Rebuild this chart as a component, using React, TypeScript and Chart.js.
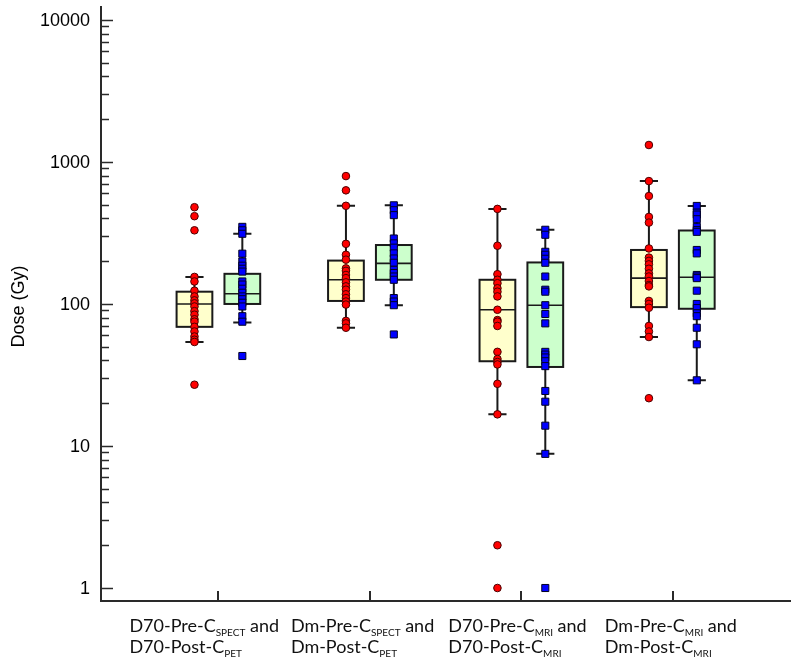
import React, { useEffect, useRef } from "react";
import { Chart, registerables } from "chart.js";

Chart.register(...registerables);

// ---------- data ----------
const categoryLine1 = [
  ["D70-Pre-C", "SPECT", " and"],
  ["Dm-Pre-C", "SPECT", " and"],
  ["D70-Pre-C", "MRI", " and"],
  ["Dm-Pre-C", "MRI", " and"],
];
const categoryLine2 = [
  ["D70-Post-C", "PET"],
  ["Dm-Post-C", "PET"],
  ["D70-Post-C", "MRI"],
  ["Dm-Post-C", "MRI"],
];
const yTickValues = [1, 10, 100, 1000, 10000];
const yTitle = "Dose (Gy)";

const preG1 = [480, 415, 330, 155, 144, 124, 113, 106, 101, 96, 89, 84, 78, 75, 69, 64, 59, 56, 54, 27];
const postG1 = [349, 330, 312, 226, 199, 186, 177, 169, 144, 137, 128, 120, 113, 108, 102, 96, 82, 75, 43];
const preG2 = [795, 631, 491, 265, 222, 205, 178, 171, 160, 152, 142, 133, 126, 117, 110, 104, 99, 76, 73, 68];
const postG2 = [495, 457, 422, 289, 267, 249, 227, 209, 195, 174, 165, 156, 148, 110, 104, 98, 61];
const preG3 = [467, 257, 162, 148, 140, 129, 122, 113, 91, 77, 75, 70, 46, 41, 39, 37.5, 27.4, 16.7, 2, 1];
const postG3 = [333, 307, 233, 222, 208, 195, 156, 126, 122, 98, 85, 73, 46, 44, 42, 39.5, 36.5, 24.4, 20.5, 13.9, 8.8, 1];
const preG4 = [1316, 733, 575, 410, 374, 246, 212, 201, 190, 177, 164, 156, 145, 136, 133, 105, 100, 94, 70, 64, 58.5, 21.7];
const postG4 = [490, 440, 426, 395, 349, 331, 322, 240, 227, 160, 156, 152, 124, 100, 93.5, 86, 82, 68, 52, 29];

const preValues = [preG1, preG2, preG3, preG4];
const postValues = [postG1, postG2, postG3, postG4];

const preLow = [54, 68, 16.7, 58.5];
const preQ1 = [69, 105, 39.5, 95];
const preMedian = [100, 148, 91, 152];
const preQ3 = [122, 202, 148, 240];
const preHigh = [155, 491, 467, 733];

const postLow = [74, 98, 8.8, 29];
const postQ1 = [100, 148, 36, 92.5];
const postMedian = [118, 193, 98, 154];
const postQ3 = [163, 260, 196, 329];
const postHigh = [312, 495, 333, 490];

// ---------- layout / style ----------
const PAIR_OFFSET = 0.158;
const BOX_HALF = 0.118;
const CAP_HALF = 0.06;
const LABEL_SHIFT = [-89, -79, -73, -68];
const AXIS_COLOR = "#2a2a2a";
const PRE_FILL = "#FFFFCC";
const POST_FILL = "#CCFFCC";
const MAIN_FONT = "18px Lato, 'Open Sans', sans-serif";
const SUB_FONT = "10px Lato, 'Open Sans', sans-serif";
const TICK_FONT = "18px 'Liberation Sans', Arial, sans-serif";

const boxPlugin = {
  id: "boxplots",
  beforeDatasetsDraw(chart: any) {
    const { ctx } = chart;
    const xs = chart.scales.x;
    const ys = chart.scales.y;
    const Y = (v: number) => ys.getPixelForValue(v);
    const draw = (pos: number, lo: number, q1: number, med: number, q3: number, hi: number, fill: string) => {
      const xc = xs.getPixelForValue(pos);
      const hw = xs.getPixelForValue(pos + BOX_HALF) - xc;
      const cw = xs.getPixelForValue(pos + CAP_HALF) - xc;
      ctx.save();
      ctx.strokeStyle = "#1a1a1a";
      ctx.lineWidth = 2;
      ctx.beginPath();
      ctx.moveTo(xc, Y(hi));
      ctx.lineTo(xc, Y(lo));
      ctx.moveTo(xc - cw, Y(hi));
      ctx.lineTo(xc + cw, Y(hi));
      ctx.moveTo(xc - cw, Y(lo));
      ctx.lineTo(xc + cw, Y(lo));
      ctx.stroke();
      const top = Y(q3);
      const bot = Y(q1);
      ctx.fillStyle = fill;
      ctx.fillRect(xc - hw, top, hw * 2, bot - top);
      ctx.strokeRect(xc - hw, top, hw * 2, bot - top);
      ctx.lineWidth = 1.6;
      ctx.beginPath();
      ctx.moveTo(xc - hw, Y(med));
      ctx.lineTo(xc + hw, Y(med));
      ctx.stroke();
      ctx.restore();
    };
    for (let i = 0; i < preValues.length; i++) {
      draw(i + 1 - PAIR_OFFSET, preLow[i], preQ1[i], preMedian[i], preQ3[i], preHigh[i], PRE_FILL);
      draw(i + 1 + PAIR_OFFSET, postLow[i], postQ1[i], postMedian[i], postQ3[i], postHigh[i], POST_FILL);
    }
  },
};

const axesPlugin = {
  id: "customAxes",
  afterDraw(chart: any) {
    const { ctx, chartArea } = chart;
    const xs = chart.scales.x;
    const ys = chart.scales.y;
    const { left, right, top, bottom } = chartArea;
    ctx.save();
    ctx.strokeStyle = AXIS_COLOR;
    ctx.lineWidth = 2;
    ctx.beginPath();
    ctx.moveTo(left, top);
    ctx.lineTo(left, bottom);
    ctx.lineTo(right, bottom);
    ctx.stroke();

    // y ticks (inward)
    ctx.lineWidth = 1.5;
    ctx.beginPath();
    for (let d = 0; d < yTickValues.length; d++) {
      const base = yTickValues[d];
      for (let m = 1; m <= 9; m++) {
        const v = base * m;
        if (v > ys.max) break;
        const py = Math.round(ys.getPixelForValue(v)) + 0.5;
        const len = m === 1 ? 12 : 8;
        ctx.moveTo(left, py);
        ctx.lineTo(left + len, py);
      }
    }
    ctx.stroke();

    ctx.fillStyle = "#000";
    ctx.font = TICK_FONT;
    ctx.textAlign = "right";
    ctx.textBaseline = "middle";
    yTickValues.forEach((v) => {
      ctx.fillText(String(v), left - 11, ys.getPixelForValue(v) + 1);
    });

    // y title
    ctx.save();
    ctx.translate(19, (top + bottom) / 2 + 3);
    ctx.rotate(-Math.PI / 2);
    ctx.textAlign = "center";
    ctx.textBaseline = "middle";
    ctx.font = TICK_FONT;
    ctx.fillText(yTitle, 0, 0);
    ctx.restore();

    // x ticks (inward)
    ctx.lineWidth = 2;
    ctx.beginPath();
    for (let i = 0; i < categoryLine1.length; i++) {
      const px = Math.round(xs.getPixelForValue(i + 1));
      ctx.moveTo(px, bottom);
      ctx.lineTo(px, bottom - 10);
    }
    ctx.stroke();

    // x labels with subscripts
    ctx.textAlign = "left";
    ctx.textBaseline = "alphabetic";
    ctx.fillStyle = "#111";
    const drawSegs = (segs: string[], x0: number, baseline: number) => {
      let cx = x0;
      segs.forEach((s, k) => {
        const sub = k === 1;
        ctx.font = sub ? SUB_FONT : MAIN_FONT;
        ctx.fillText(s, cx, baseline + (sub ? 4 : 0));
        cx += ctx.measureText(s).width;
      });
    };
    for (let i = 0; i < categoryLine1.length; i++) {
      const x0 = xs.getPixelForValue(i + 1) + LABEL_SHIFT[i];
      drawSegs(categoryLine1[i], x0, bottom + 31);
      drawSegs(categoryLine2[i], x0, bottom + 52);
    }
    ctx.restore();
  },
};

export default function App() {
  const ref = useRef<HTMLCanvasElement | null>(null);
  useEffect(() => {
    if (!ref.current) return;
    const datasets: any[] = [];
    preValues.forEach((vals, i) => {
      datasets.push({
        data: vals.map((v) => ({ x: i + 1 - PAIR_OFFSET, y: v })),
        pointStyle: "circle",
        pointRadius: 3.8,
        backgroundColor: "#ff0000",
        borderColor: "#4a0000",
        borderWidth: 1,
      });
      datasets.push({
        data: postValues[i].map((v) => ({ x: i + 1 + PAIR_OFFSET, y: v })),
        pointStyle: "rect",
        pointRadius: 5,
        backgroundColor: "#0000ff",
        borderColor: "#000022",
        borderWidth: 1,
      });
    });
    const chart = new Chart(ref.current, {
      type: "scatter",
      data: { datasets },
      options: {
        animation: false,
        responsive: false,
        events: [],
        layout: { padding: { left: 101, top: 3, right: 2, bottom: 56 } },
        scales: {
          x: { type: "linear", min: 0.225, max: 4.78, display: false },
          y: { type: "logarithmic", min: 0.81, max: 12530, display: false },
        },
        plugins: { legend: { display: false }, tooltip: { enabled: false } },
      },
      plugins: [boxPlugin, axesPlugin],
    } as any);
    return () => chart.destroy();
  }, []);
  return (
    <div style={{ position: "fixed", left: 0, top: 0, width: 797, height: 657, background: "#fff" }}>
      <canvas ref={ref} width={797} height={657} style={{ display: "block" }} />
    </div>
  );
}
